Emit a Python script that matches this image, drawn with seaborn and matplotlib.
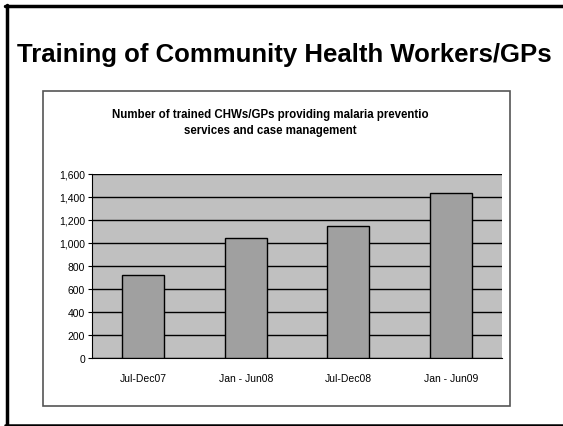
import pandas as pd
import matplotlib.pyplot as plt
import seaborn as sns
from matplotlib.patches import Rectangle
from matplotlib.ticker import FuncFormatter, FixedLocator

periodos = ["Jul-Dec07", "Jan - Jun08", "Jul-Dec08", "Jan - Jun09"]
treinados = [720, 1045, 1150, 1435]

df = pd.DataFrame({"periodo": periodos, "total": treinados})

sns.set_style("white")
plt.rcParams["font.family"] = ["Liberation Sans", "DejaVu Sans"]
plt.rcParams["text.color"] = "black"
plt.rcParams["xtick.color"] = "black"
plt.rcParams["ytick.color"] = "black"

W, H = 563, 427
fig = plt.figure(figsize=(W / 100, H / 100), dpi=100)

# moldura externa do slide
fig.add_artist(plt.Line2D([6.5 / W, 6.5 / W], [1 - 6 / H, 1 - 426 / H], color="black", lw=2.5, transform=fig.transFigure))
fig.add_artist(plt.Line2D([5 / W, 1], [1 - 6.5 / H, 1 - 6.5 / H], color="black", lw=2.5, transform=fig.transFigure))
fig.add_artist(plt.Line2D([5 / W, 1], [1 - 425.5 / H, 1 - 425.5 / H], color="black", lw=1.8, transform=fig.transFigure))

# caixa do grafico
fig.add_artist(Rectangle((43 / W, 1 - 407 / H), (510 - 43) / W, (407 - 92) / H,
                         transform=fig.transFigure, fill=False, edgecolor="#555555", lw=1.2))

fig.text(284 / W, 1 - 55 / H, "Training of Community Health Workers/GPs",
         ha="center", va="center", fontsize=18.5, fontweight="bold")
fig.text(270 / W, 1 - 123 / H,
         "Number of trained CHWs/GPs providing malaria preventio\nservices and case management",
         ha="center", va="center", fontsize=8.3, fontweight="bold", linespacing=1.55)

ax = fig.add_axes([92 / W, 1 - 359 / H, 410 / W, 184 / H])
ax.set_facecolor("#c0c0c0")
sns.barplot(data=df, x="periodo", y="total", color="#a0a0a0", edgecolor="black",
            linewidth=1.0, width=0.41, saturation=1, ax=ax, zorder=3)

ax.set_ylim(0, 1600)
ax.set_yticks(range(0, 1601, 200))
ax.yaxis.set_major_formatter(FuncFormatter(lambda v, p: f"{int(v):,}"))
ax.grid(axis="y", color="black", lw=1.0, zorder=1)
ax.set_axisbelow(True)
ax.set_xlabel("")
ax.set_ylabel("")
ax.set_xlim(-0.5, 3.5)
ax.xaxis.set_minor_locator(FixedLocator([0.5, 1.5, 2.5]))
ax.tick_params(axis="x", which="major", length=0, labelsize=7.5, pad=11)
ax.tick_params(axis="x", which="minor", length=3, direction="out", color="black")
ax.tick_params(axis="y", length=3, direction="out", labelsize=7.5, pad=2, color="black", left=True)
for lado in ["top", "right"]:
    ax.spines[lado].set_visible(False)
ax.spines["left"].set_color("black")
ax.spines["bottom"].set_color("black")

fig.savefig("out.png", dpi=100)
